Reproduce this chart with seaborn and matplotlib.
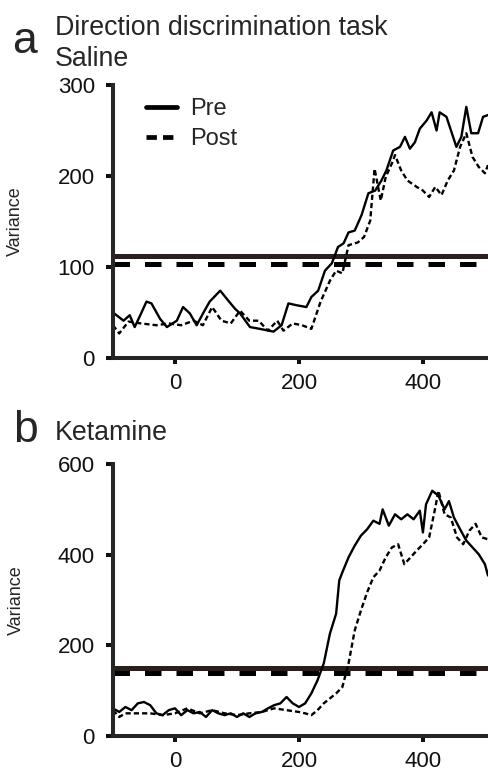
import numpy as np
import pandas as pd
import seaborn as sns
import matplotlib.pyplot as plt

# ---- data ----
# a: Saline
sal_pre_t = [-100, -83, -73, -65, -56, -46, -38, -24, -13, 3, 13, 24, 35, 46, 56, 73, 86, 97, 105, 121,
             137, 159, 172, 183, 196, 212, 220, 231, 242, 253, 263, 272, 280, 290, 301, 312, 323, 333, 341, 352,
             363, 371, 379, 387, 395, 406, 414, 422, 427, 438, 454, 462, 470, 478, 489, 497, 505]
sal_pre_v = [50, 41, 47, 34, 47, 62, 60, 43, 34, 41, 56, 49, 36, 50, 62, 74, 63, 54, 49, 34,
             32, 29, 36, 60, 58, 56, 67, 74, 96, 104, 122, 126, 138, 140, 157, 181, 184, 195, 206, 228,
             232, 243, 230, 237, 252, 261, 270, 250, 270, 265, 232, 243, 276, 247, 247, 265, 267]
sal_post_t = [-100, -90, -75, -55, -30, -10, 10, 30, 45, 60, 75, 90, 105, 120, 135, 150, 165, 175, 190, 205,
              220, 235, 250, 260, 270, 280, 295, 305, 315, 322, 332, 340, 350, 355, 365, 375, 390, 400, 410, 420,
              430, 440, 450, 460, 470, 480, 490, 500, 505]
sal_post_v = [36, 27, 40, 38, 36, 38, 36, 41, 36, 56, 41, 38, 52, 41, 41, 30, 41, 30, 38, 36,
              32, 62, 85, 96, 93, 124, 127, 133, 151, 208, 173, 199, 214, 223, 206, 195, 188, 184, 177, 188,
              179, 195, 206, 232, 247, 221, 210, 203, 212]
sal_thresh = [112, 103]

# b: Ketamine
ket_pre_t = [-100, -90, -80, -70, -60, -50, -40, -30, -20, -10, 0, 10, 20, 30, 40, 50, 60, 70, 80, 90,
             100, 110, 120, 130, 140, 150, 160, 170, 180, 190, 200, 210, 220, 230, 240, 250, 255, 260, 265, 270,
             280, 290, 300, 310, 320, 330, 335, 345, 355, 365, 375, 385, 395, 400, 405, 415, 425, 435, 442, 450,
             460, 470, 480, 490, 500, 505]
ket_pre_v = [61, 53, 64, 57, 72, 75, 68, 50, 46, 57, 61, 46, 57, 50, 53, 42, 57, 50, 46, 50,
             42, 50, 42, 50, 53, 61, 68, 72, 86, 72, 64, 72, 94, 123, 160, 226, 248, 270, 343, 361,
             394, 420, 442, 456, 475, 468, 500, 464, 489, 478, 489, 478, 497, 449, 511, 541, 530, 500, 518, 482,
             456, 431, 416, 401, 379, 354]
ket_post_t = [-100, -90, -80, -60, -40, -20, 0, 20, 40, 60, 80, 100, 120, 140, 160, 180, 200, 210, 220, 230,
              240, 250, 260, 270, 280, 290, 300, 310, 320, 330, 340, 350, 360, 370, 380, 390, 400, 410, 420, 425,
              435, 445, 455, 465, 475, 485, 495, 505]
ket_post_v = [57, 42, 50, 50, 50, 46, 50, 61, 50, 57, 50, 46, 50, 53, 61, 57, 53, 50, 46, 57,
              72, 83, 94, 108, 160, 233, 277, 317, 350, 365, 394, 416, 423, 379, 394, 409, 423, 438, 504, 541,
              489, 482, 438, 423, 453, 468, 438, 434]
ket_thresh = [150, 139]


def long_df(pre_t, pre_v, post_t, post_v):
    a = pd.DataFrame({"time": pre_t, "variance": pre_v, "cond": "Pre"})
    b = pd.DataFrame({"time": post_t, "variance": post_v, "cond": "Post"})
    return pd.concat([a, b], ignore_index=True)


sns.set_style("ticks")
plt.rcParams['font.family'] = ['Liberation Sans', 'DejaVu Sans']
plt.rcParams['axes.linewidth'] = 2.9

W, H = 488, 771
fig = plt.figure(figsize=(W / 100, H / 100), dpi=100)


def px_rect(left, top, right, bottom):
    return [left / W, 1 - bottom / H, (right - left) / W, (bottom - top) / H]


ax1 = fig.add_axes(px_rect(113, 85, 488, 358))
ax2 = fig.add_axes(px_rect(113, 464, 488, 736))

panels = [
    (ax1, long_df(sal_pre_t, sal_pre_v, sal_post_t, sal_post_v), sal_thresh, (0, 300), [0, 100, 200, 300], True),
    (ax2, long_df(ket_pre_t, ket_pre_v, ket_post_t, ket_post_v), ket_thresh, (0, 600), [0, 200, 400, 600], False),
]

for ax, df, th, ylim, yt, show_leg in panels:
    sns.lineplot(data=df, x="time", y="variance", style="cond", style_order=["Pre", "Post"],
                 dashes={"Pre": "", "Post": (2.2, 1.3)}, color="black", lw=1.7,
                 estimator=None, sort=True, ax=ax, legend=show_leg)
    ax.axhline(th[0], color="#2a1f1f", lw=3.6, zorder=1)
    ax.axhline(th[1], color="black", lw=3.6, dashes=(3.3, 3.0), zorder=1)
    ax.set_xlim(-100, 505)
    ax.set_ylim(*ylim)
    ax.set_xticks([0, 200, 400])
    ax.set_yticks(yt)
    ax.tick_params(axis="both", direction="out", length=4, width=2.9, labelsize=16, colors="#111111")
    ax.tick_params(axis="x", pad=7)
    ax.tick_params(axis="y", length=5, pad=8)
    ax.set_xlabel("")
    ax.set_ylabel("Variance", fontsize=13, labelpad=24)
    sns.despine(ax=ax)
    for s in ["left", "bottom"]:
        ax.spines[s].set_clip_on(False)

leg = ax1.legend(frameon=False, loc="upper left", bbox_to_anchor=(0.03, 1.03), fontsize=17,
                 handlelength=1.35, handletextpad=0.55, labelspacing=0.35)
for ln in leg.get_lines():
    ln.set_linewidth(3.4)

# panel labels and titles
fig.text(12 / W, 1 - 53 / H, "a", fontsize=32, va="baseline")
fig.text(55 / W, 1 - 35 / H, "Direction discrimination task", fontsize=19.3, va="baseline")
fig.text(55 / W, 1 - 66 / H, "Saline", fontsize=19.3, va="baseline")
fig.text(13 / W, 1 - 442 / H, "b", fontsize=32, va="baseline")
fig.text(55 / W, 1 - 440 / H, "Ketamine", fontsize=19.3, va="baseline")

fig.savefig("out.png", dpi=100)
